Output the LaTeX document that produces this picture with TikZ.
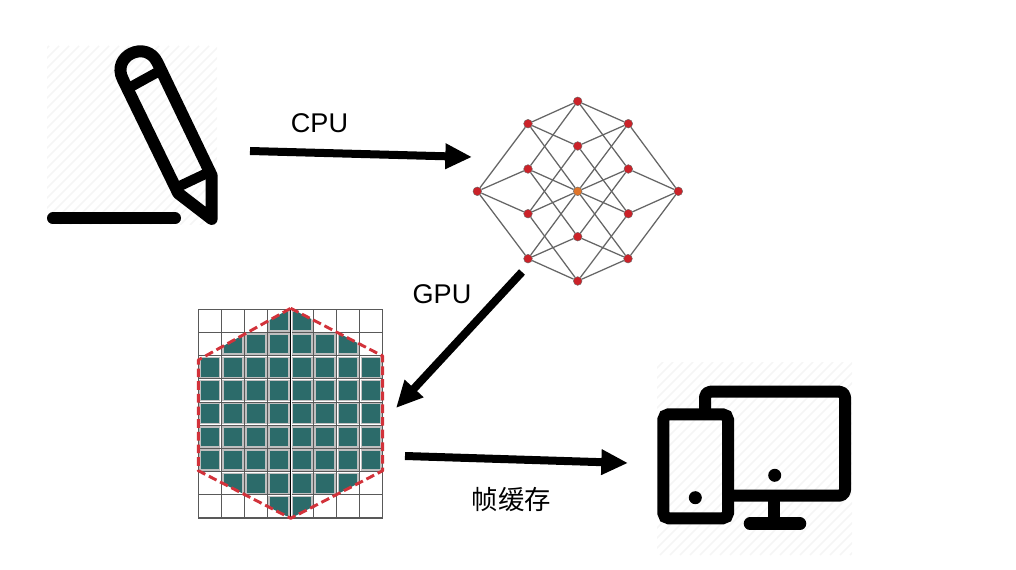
\documentclass[tikz,border=0pt]{standalone}
\usepackage{fontspec}
\setmainfont{Liberation Sans}
\newfontfamily\cjk{Noto Sans CJK SC}
\usetikzlibrary{arrows.meta}
\definecolor{cellteal}{HTML}{2C6B6A}
\definecolor{dashred}{HTML}{D2323A}
\definecolor{vertred}{HTML}{CC2229}
\definecolor{vertorange}{HTML}{E0752A}
\tikzset{
	bigarrow/.style={line width=6pt,-{Triangle[length=20pt,width=18pt]}},
	iconline/.style={line width=9pt,line join=round,line cap=round},
	hatchline/.style={line width=1.2pt,black!4},
	vert/.style={circle,fill=vertred,draw=black!60,line width=0.3pt,inner sep=2.3pt},
	cell/.style={fill=cellteal,draw=black!25,line width=1pt},
	caption/.style={font=\fontsize{20.3pt}{24pt}\selectfont,inner sep=0pt}
}
\begin{document}
\begin{tikzpicture}[x=0.75pt,y=-0.75pt]
	\useasboundingbox (0,0) rectangle (1016,570);

	%faint hatching behind the icons
	\begin{scope}
		\clip (47,46) rectangle (217,225);
		\foreach \x in {-130,-120,...,210}{
			\draw[hatchline] (\x,225)--(\x+179,46);
		}
	\end{scope}
	\begin{scope}
		\clip (657,362) rectangle (852,555);
		\foreach \x in {470,480,...,850}{
			\draw[hatchline] (\x,555)--(\x+193,362);
		}
	\end{scope}

	%pencil
	\draw[iconline] (157.3,62.3) .. controls (146,39.3) and (111.3,56) .. (122.7,79)
		-- (178.3,193.3) -- (211.7,219) -- (211.7,175.7) -- cycle;
	\draw[line width=7.6pt] (130,87.3)--(158.3,71.7);
	\draw[line width=7.6pt] (178.3,186.7)--(210,171.7);
	\draw[line width=9pt,line cap=round] (53,218.3)--(175,218.3);

	%graph
	\node (top) at (577.7,101.3) [vert]{};
	\node (tl) at (528,123.7) [vert]{};
	\node (tr) at (628.3,123.7) [vert]{};
	\node (ictop) at (577.7,146) [vert]{};
	\node (ml) at (528,169) [vert]{};
	\node (mr) at (628.3,169) [vert]{};
	\node (lft) at (477.3,191.3) [vert]{};
	\node (mid) at (577.7,191.3) [vert,fill=vertorange]{};
	\node (rgt) at (678.3,191.3) [vert]{};
	\node (ll) at (528,213.7) [vert]{};
	\node (lr) at (628.3,213.7) [vert]{};
	\node (icbot) at (577.7,236.7) [vert]{};
	\node (bl) at (528,258.7) [vert]{};
	\node (br) at (628,258.7) [vert]{};
	\node (bot) at (577.7,281) [vert]{};
	\foreach \a/\b in {top/tl,top/tr,top/ml,top/mr,tl/ictop,tl/lft,tl/mid,tr/ictop,tr/mid,tr/rgt,
		ml/lft,ml/mid,ml/icbot,mr/mid,mr/rgt,mr/icbot,ictop/ll,ictop/lr,lft/ll,lft/bl,
		mid/lr,mid/bl,mid/ll,mid/br,rgt/lr,rgt/br,icbot/bl,icbot/br,ll/bot,lr/bot,bl/bot,br/bot}{
		\draw[black!60,line width=0.95pt] (\a)--(\b);
	}

	%raster grid
	\foreach \x in {0,...,8}{
		\draw[black!65,line width=0.8pt] (198.3+\x*23.05,309.3)--(198.3+\x*23.05,518);
	}
	\foreach \y in {0,...,9}{
		\draw[black!65,line width=0.8pt] (198.3,309.3+\y*23.19)--(382.7,309.3+\y*23.19);
	}
	\begin{scope}
		\clip (290.7,308.3)--(382.7,356)--(382.7,470.7)--(290.7,518.3)--(198.3,470.7)--(198.3,360)--cycle;
		\foreach \r/\cols in {0/{3,4},1/{1,...,6},2/{0,...,7},3/{0,...,7},4/{0,...,7},5/{0,...,7},6/{0,...,7},7/{1,...,6},8/{3,4}}{
			\foreach \c in \cols{
				\draw[cell] (198.3+\c*23.05+1.6,309.3+\r*23.19+1.6) rectangle (198.3+\c*23.05+21.5,309.3+\r*23.19+21.6);
			}
		}
	\end{scope}
	\draw[white,line width=0.8pt] (291.6,309.3)--(291.6,518);
	\draw[black,line width=0.6pt] (290.7,309.3)--(290.7,518);
	\draw[dashred,line width=2.2pt,dash pattern=on 6.5pt off 3pt,line join=round] (290.7,308.3)--(382.7,356)--(382.7,470.7)--(290.7,518.3)--(198.3,470.7)--(198.3,360)--cycle;

	%devices
	\draw[iconline,line cap=butt,rounded corners=4pt] (705,412)--(705,391.7)--(845,391.7)--(845,495.7)--(730,495.7);
	\draw[line width=9pt,rounded corners=4pt] (663.3,414.3) rectangle (728,518.3);
	\draw[line width=9pt] (774.3,495.7)--(774.3,523.5);
	\draw[line width=9.4pt,line cap=round] (750,523.7)--(800,523.7);
	\fill (774.7,475.3) circle (6.5);
	\fill (695.3,497.7) circle (6.5);

	%arrows and their labels
	\coordinate (cpufrom) at (250,151);
	\coordinate (cputo) at (472,157);
	\coordinate (gpufrom) at (522,272);
	\coordinate (gputo) at (396,408);
	\coordinate (fbfrom) at (405,456);
	\coordinate (fbto) at (628,463);
	\draw[bigarrow] (cpufrom)--(cputo);
	\draw[bigarrow] (gpufrom)--(gputo);
	\draw[bigarrow] (fbfrom)--(fbto);
	\node (cpu) at (319.5,123) [caption]{CPU};
	\node (gpu) at (442,294) [caption]{GPU};
	\node (fb) at (511.5,500) [caption,font=\fontsize{19.8pt}{24pt}\selectfont]{\cjk 帧缓存};
\end{tikzpicture}
\end{document}
